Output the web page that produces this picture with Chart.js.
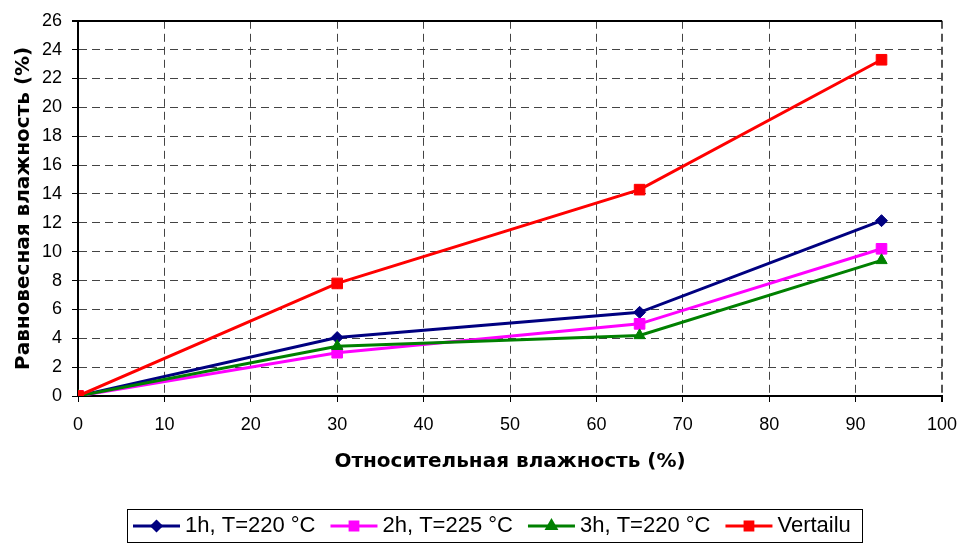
<!DOCTYPE html>
<html>
<head>
<meta charset="utf-8">
<title>Равновесная влажность</title>
<style>
  html, body { margin: 0; padding: 0; background: #fff; }
  #wrap { width: 960px; height: 543px; }
</style>
<script src="https://cdn.jsdelivr.net/npm/chart.js@4.4.0/dist/chart.umd.min.js"></script>
</head>
<body>
<div id="wrap"><canvas id="myChart" width="960" height="543"></canvas></div>
<script>
  'use strict'

  // data
  const humidity = [0, 30, 65, 93]
  const run1h = [0, 4.05, 5.8, 12.15]
  const run2h = [0, 3.0, 5.0, 10.2]
  const run3h = [0, 3.45, 4.2, 9.4]
  const reference = [0, 7.8, 14.3, 23.3]
  const seriesNames = ['1h, T=220 °C', '2h, T=225 °C', '3h, T=220 °C', 'Vertailu']

  const xTitle = 'Относительная влажность (%)'
  const yTitle = 'Равновесная влажность (%)'

  const font = "'Liberation Sans', Arial, sans-serif"
  const titleFont = "'DejaVu Sans', 'Liberation Sans', sans-serif"

  const toPoints = (ys) => humidity.map((x, i) => ({ x: x, y: ys[i] }))

  // legend: line + marker icon and a frame round it
  const legendLook = {
    id: 'legendLook',
    afterLayout(chart) {
      const lg = chart.legend
      const pad = lg.options.labels.padding
      const start = (lg.left + pad + lg.right - lg.lineWidths[0]) / 2
      const dx = 133 - start
      const dy = 515 - (lg.top + pad)
      lg.left += dx
      lg.right += dx
      lg.top += dy
      lg.bottom += dy
    },
    afterDraw(chart) {
      const lg = chart.legend
      const c = chart.ctx
      const boxes = lg.legendHitBoxes
      const fs = lg.options.labels.font.size
      boxes.forEach((hb, i) => {
        const ds = chart.data.datasets[i]
        const y = hb.top + fs / 2
        c.save()
        c.strokeStyle = ds.borderColor
        c.fillStyle = ds.borderColor
        c.lineWidth = 3
        c.beginPath()
        c.moveTo(hb.left, y)
        c.lineTo(hb.left + 47, y)
        c.stroke()
        Chart.helpers.drawPoint(c, {
          pointStyle: ds.pointStyle,
          radius: ds.legendRadius,
          borderWidth: 1,
          rotation: 0
        }, hb.left + 23.5, y)
        c.restore()
      })
      const first = boxes[0]
      const last = boxes[boxes.length - 1]
      const right = last.left + last.width + 11
      c.save()
      c.strokeStyle = '#000'
      c.lineWidth = 1
      c.strokeRect(Math.round(first.left - 6) + 0.5, Math.round(first.top - 6) + 0.5,
        Math.round(right - first.left + 6), 33)
      c.restore()
    }
  }

  const ctx = document.getElementById('myChart')

  const myChart = new Chart(ctx, {
    type: 'scatter',
    data: {
      datasets: [{
        label: seriesNames[0],
        data: toPoints(run1h),
        borderColor: '#000080',
        backgroundColor: '#000080',
        pointStyle: 'rectRot',
        pointRadius: 6,
        legendRadius: 4.5,
        order: 4
      }, {
        label: seriesNames[1],
        data: toPoints(run2h),
        borderColor: '#ff00ff',
        backgroundColor: '#ff00ff',
        pointStyle: 'rect',
        pointRadius: 7.5,
        legendRadius: 5.5,
        order: 3
      }, {
        label: seriesNames[2],
        data: toPoints(run3h),
        borderColor: '#008000',
        backgroundColor: '#008000',
        pointStyle: 'triangle',
        pointRadius: 6.5,
        legendRadius: 5,
        order: 2
      }, {
        label: seriesNames[3],
        data: toPoints(reference),
        borderColor: '#ff0000',
        backgroundColor: '#ff0000',
        pointStyle: 'rect',
        pointRadius: 7.5,
        legendRadius: 5.5,
        order: 1
      }].map(ds => Object.assign(ds, {
        showLine: true,
        borderWidth: 3,
        pointBorderWidth: 1,
        pointBorderColor: ds.borderColor,
        pointBackgroundColor: ds.borderColor,
        pointHoverRadius: ds.pointRadius
      }))
    },
    options: {
      responsive: false,
      animation: false,
      devicePixelRatio: 1,
      layout: {
        autoPadding: false,
        padding: { left: 0, right: 18, top: 20, bottom: 0 }
      },
      scales: {
        x: {
          type: 'linear',
          min: 0,
          max: 100,
          afterFit: (scale) => {
            scale.height = 100
            scale.paddingLeft = 0
            scale.paddingRight = 0
          },
          ticks: {
            stepSize: 10,
            padding: 12,
            color: '#000',
            font: { family: font, size: 18 }
          },
          grid: {
            color: (c) => c.tick && c.tick.value === 100 ? '#555' : '#444',
            lineWidth: (c) => c.tick && c.tick.value === 100 ? 2 : 1,
            tickLength: 6,
            tickColor: '#000'
          },
          border: {
            display: true,
            color: '#000',
            width: 2,
            dash: [8, 5]
          },
          title: {
            display: true,
            text: xTitle,
            color: '#000',
            font: { family: titleFont, size: 20, weight: 'bold' },
            padding: { top: 0, bottom: 22 }
          }
        },
        y: {
          min: 0,
          max: 26,
          afterFit: (scale) => { scale.width = 78 },
          ticks: {
            stepSize: 2,
            padding: 10,
            color: '#000',
            font: { family: font, size: 18 }
          },
          grid: {
            color: (c) => c.tick && c.tick.value === 26 ? '#000' : '#444',
            lineWidth: (c) => c.tick && c.tick.value === 26 ? 2 : 1,
            tickLength: 6,
            tickColor: '#000'
          },
          border: {
            display: true,
            color: '#000',
            width: 2,
            dash: (c) => c.tick && c.tick.value === 26 ? [] : [8, 5]
          },
          title: {
            display: true,
            text: yTitle,
            color: '#000',
            font: { family: titleFont, size: 20, weight: 'bold' },
            padding: { top: 12, bottom: 0 }
          }
        }
      },
      plugins: {
        legend: {
          display: true,
          position: 'bottom',
          labels: {
            boxWidth: 41,
            padding: 15,
            color: '#000',
            font: { family: font, size: 22 },
            generateLabels: (chart) => chart.data.datasets.map((ds, i) => ({
              text: ds.label,
              fillStyle: 'rgba(0,0,0,0)',
              strokeStyle: 'rgba(0,0,0,0)',
              lineWidth: 0,
              fontColor: '#000',
              hidden: false,
              datasetIndex: i
            }))
          }
        },
        tooltip: {
          enabled: false
        }
      }
    },
    plugins: [legendLook]
  })
</script>
</body>
</html>
